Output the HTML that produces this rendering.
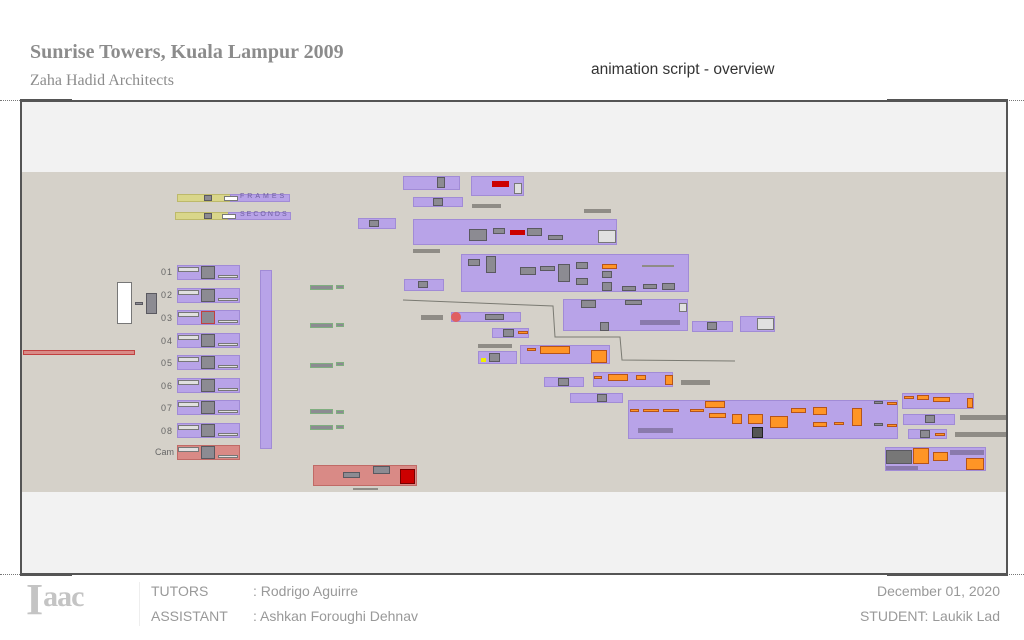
<!DOCTYPE html>
<html><head><meta charset="utf-8"><style>
*{margin:0;padding:0;box-sizing:border-box}
body{width:1024px;height:640px;background:#fff;position:relative;overflow:hidden;font-family:"Liberation Sans",sans-serif}
div{position:absolute}
.g{background:#b8a3e8;border:1px solid #a18bd6}
.r{background:#d98a86;border:1px solid #c06a66}
.n{background:#8c8b92;border:1px solid #5a5960}
.o{background:#ff9526;border:1px solid #b5541a}
.w{background:#e0e0e0;border:1px solid #777}
.b{background:#8f8c86}
.y{background:#d9d68a;border:1px solid #bdb96a}
.gn{background:#8c8b92;border:1px solid #7fae7f}
.lbl{font-size:9px;color:#666;letter-spacing:1px}
.t{font-family:"Liberation Sans",sans-serif;color:#999}
</style></head><body>
<div style="left:30px;top:41px;font-family:'Liberation Serif',serif;font-weight:bold;font-size:20px;color:#8c8c8c">Sunrise Towers, Kuala Lampur 2009</div>
<div style="left:30px;top:72px;font-family:'Liberation Serif',serif;font-size:16px;color:#8c8c8c">Zaha Hadid Architects</div>
<div style="left:591px;top:61px;font-size:15.5px;color:#333">animation script - overview</div>

<div style="left:0;top:100px;width:1024px;border-top:1px dotted #777"></div>
<div style="left:0;top:574px;width:1024px;border-top:1px dotted #777"></div>
<div style="left:20px;top:100px;width:988px;height:475px;background:#f2f2f2;border:2px solid #555"></div>
<div style="left:20px;top:99px;width:52px;height:3px;background:#555"></div>
<div style="left:887px;top:99px;width:121px;height:3px;background:#555"></div>
<div style="left:20px;top:573px;width:52px;height:3px;background:#555"></div>
<div style="left:887px;top:573px;width:121px;height:3px;background:#555"></div>

<div style="left:22px;top:172px;width:984px;height:320px;background:#d5d1c9"></div>

<div class="y" style="left:177px;top:194px;width:54px;height:8px"></div>
<div class="g" style="left:230px;top:194px;width:60px;height:8px"></div>
<div style="left:240px;top:193px;font-size:7px;color:#7060a0;letter-spacing:3px">FRAMES</div>
<div class="y" style="left:175px;top:212px;width:54px;height:8px"></div>
<div class="g" style="left:228px;top:212px;width:63px;height:8px"></div>
<div style="left:240px;top:211px;font-size:7px;color:#7060a0;letter-spacing:2px">SECONDS</div>
<div class="n" style="left:204px;top:195px;width:8px;height:6px"></div>
<div class="n" style="left:204px;top:213px;width:8px;height:6px"></div>
<div class="w" style="left:224px;top:196px;width:14px;height:5px;background:#fff"></div>
<div class="w" style="left:222px;top:214px;width:14px;height:5px;background:#fff"></div>
<div class="g" style="left:358px;top:218px;width:38px;height:11px"></div>
<div class="n" style="left:369px;top:220px;width:10px;height:7px"></div>

<div class="lbl" style="left:161px;top:267px">01</div>
<div class="lbl" style="left:161px;top:290px">02</div>
<div class="lbl" style="left:161px;top:313px">03</div>
<div class="lbl" style="left:161px;top:336px">04</div>
<div class="lbl" style="left:161px;top:358px">05</div>
<div class="lbl" style="left:161px;top:381px">06</div>
<div class="lbl" style="left:161px;top:403px">07</div>
<div class="lbl" style="left:161px;top:426px">08</div>
<div class="lbl" style="left:155px;top:447px;letter-spacing:0">Cam</div>
<div class="g" style="left:177px;top:265px;width:63px;height:15px"></div>
<div class="g" style="left:177px;top:288px;width:63px;height:15px"></div>
<div class="g" style="left:177px;top:310px;width:63px;height:15px"></div>
<div class="g" style="left:177px;top:333px;width:63px;height:15px"></div>
<div class="g" style="left:177px;top:355px;width:63px;height:15px"></div>
<div class="g" style="left:177px;top:378px;width:63px;height:15px"></div>
<div class="g" style="left:177px;top:400px;width:63px;height:15px"></div>
<div class="g" style="left:177px;top:423px;width:63px;height:15px"></div>
<div class="r" style="left:177px;top:445px;width:63px;height:15px"></div>
<div class="n" style="left:201px;top:266px;width:14px;height:13px"></div>
<div class="n" style="left:201px;top:289px;width:14px;height:13px"></div>
<div class="n" style="left:201px;top:311px;width:14px;height:13px;border-color:#c04040"></div>
<div class="n" style="left:201px;top:334px;width:14px;height:13px"></div>
<div class="n" style="left:201px;top:356px;width:14px;height:13px"></div>
<div class="n" style="left:201px;top:379px;width:14px;height:13px"></div>
<div class="n" style="left:201px;top:401px;width:14px;height:13px"></div>
<div class="n" style="left:201px;top:424px;width:14px;height:13px"></div>
<div class="n" style="left:201px;top:446px;width:14px;height:13px"></div>
<div class="w" style="left:178px;top:267px;width:21px;height:5px"></div>
<div class="w" style="left:178px;top:290px;width:21px;height:5px"></div>
<div class="w" style="left:178px;top:312px;width:21px;height:5px"></div>
<div class="w" style="left:178px;top:335px;width:21px;height:5px"></div>
<div class="w" style="left:178px;top:357px;width:21px;height:5px"></div>
<div class="w" style="left:178px;top:380px;width:21px;height:5px"></div>
<div class="w" style="left:178px;top:402px;width:21px;height:5px"></div>
<div class="w" style="left:178px;top:425px;width:21px;height:5px"></div>
<div class="w" style="left:178px;top:447px;width:21px;height:5px"></div>
<div class="w" style="left:218px;top:275px;width:20px;height:3px"></div>
<div class="w" style="left:218px;top:298px;width:20px;height:3px"></div>
<div class="w" style="left:218px;top:320px;width:20px;height:3px"></div>
<div class="w" style="left:218px;top:343px;width:20px;height:3px"></div>
<div class="w" style="left:218px;top:365px;width:20px;height:3px"></div>
<div class="w" style="left:218px;top:388px;width:20px;height:3px"></div>
<div class="w" style="left:218px;top:410px;width:20px;height:3px"></div>
<div class="w" style="left:218px;top:433px;width:20px;height:3px"></div>
<div class="w" style="left:218px;top:455px;width:20px;height:3px"></div>

<div style="left:117px;top:282px;width:15px;height:42px;background:#fff;border:1px solid #777"></div>
<div class="n" style="left:135px;top:302px;width:8px;height:3px"></div>
<div class="n" style="left:146px;top:293px;width:11px;height:21px"></div>
<div style="left:23px;top:350px;width:112px;height:5px;background:#d98a86;border:1px solid #c04040"></div>
<div class="g" style="left:260px;top:270px;width:12px;height:179px"></div>

<div class="gn" style="left:310px;top:285px;width:23px;height:5px"></div>
<div class="gn" style="left:310px;top:323px;width:23px;height:5px"></div>
<div class="gn" style="left:310px;top:363px;width:23px;height:5px"></div>
<div class="gn" style="left:310px;top:409px;width:23px;height:5px"></div>
<div class="gn" style="left:310px;top:425px;width:23px;height:5px"></div>
<div class="gn" style="left:336px;top:285px;width:8px;height:4px"></div>
<div class="gn" style="left:336px;top:323px;width:8px;height:4px"></div>
<div class="gn" style="left:336px;top:362px;width:8px;height:4px"></div>
<div class="gn" style="left:336px;top:410px;width:8px;height:4px"></div>
<div class="gn" style="left:336px;top:425px;width:8px;height:4px"></div>

<div class="r" style="left:313px;top:465px;width:104px;height:21px"></div>
<div style="left:400px;top:469px;width:15px;height:15px;background:#cc0000;border:1px solid #700"></div>
<div class="n" style="left:373px;top:466px;width:17px;height:8px"></div>
<div class="n" style="left:343px;top:472px;width:17px;height:6px"></div>
<div class="b" style="left:353px;top:488px;width:25px;height:2px"></div>

<div class="g" style="left:403px;top:176px;width:57px;height:14px"></div>
<div class="n" style="left:437px;top:177px;width:8px;height:11px"></div>
<div class="g" style="left:471px;top:176px;width:53px;height:20px"></div>
<div style="left:492px;top:181px;width:17px;height:6px;background:#cc0000"></div>
<div class="w" style="left:514px;top:183px;width:8px;height:11px"></div>
<div class="g" style="left:413px;top:197px;width:50px;height:10px"></div>
<div class="n" style="left:433px;top:198px;width:10px;height:8px"></div>
<div class="b" style="left:472px;top:204px;width:29px;height:4px"></div>
<div class="b" style="left:584px;top:209px;width:27px;height:4px"></div>
<div class="g" style="left:413px;top:219px;width:204px;height:26px"></div>
<div class="n" style="left:469px;top:229px;width:18px;height:12px"></div>
<div class="n" style="left:493px;top:228px;width:12px;height:6px"></div>
<div style="left:510px;top:230px;width:15px;height:5px;background:#cc0000"></div>
<div class="n" style="left:527px;top:228px;width:15px;height:8px"></div>
<div class="n" style="left:548px;top:235px;width:15px;height:5px"></div>
<div class="w" style="left:598px;top:230px;width:18px;height:13px"></div>
<div class="b" style="left:413px;top:249px;width:27px;height:4px"></div>
<div class="g" style="left:461px;top:254px;width:228px;height:38px"></div>
<div class="n" style="left:486px;top:256px;width:10px;height:17px"></div>
<div class="n" style="left:468px;top:259px;width:12px;height:7px"></div>
<div class="n" style="left:520px;top:267px;width:16px;height:8px"></div>
<div class="n" style="left:540px;top:266px;width:15px;height:5px"></div>
<div class="n" style="left:558px;top:264px;width:12px;height:18px"></div>
<div class="n" style="left:576px;top:262px;width:12px;height:7px"></div>
<div class="n" style="left:576px;top:278px;width:12px;height:7px"></div>
<div class="o" style="left:602px;top:264px;width:15px;height:5px"></div>
<div class="n" style="left:602px;top:271px;width:10px;height:7px"></div>
<div class="n" style="left:602px;top:282px;width:10px;height:9px"></div>
<div class="n" style="left:622px;top:286px;width:14px;height:5px"></div>
<div class="n" style="left:643px;top:284px;width:14px;height:5px"></div>
<div class="n" style="left:662px;top:283px;width:13px;height:7px"></div>
<div class="b" style="left:642px;top:265px;width:32px;height:2px"></div>
<div class="g" style="left:404px;top:279px;width:40px;height:12px"></div>
<div class="n" style="left:418px;top:281px;width:10px;height:7px"></div>
<div class="g" style="left:563px;top:299px;width:125px;height:32px"></div>
<div class="n" style="left:581px;top:300px;width:15px;height:8px"></div>
<div class="n" style="left:625px;top:300px;width:17px;height:5px"></div>
<div class="n" style="left:600px;top:322px;width:9px;height:9px"></div>
<div class="w" style="left:679px;top:303px;width:8px;height:9px"></div>
<div class="b" style="left:640px;top:320px;width:40px;height:5px;background:#8a7aac"></div>
<div class="g" style="left:692px;top:321px;width:41px;height:11px"></div>
<div class="n" style="left:707px;top:322px;width:10px;height:8px"></div>
<div class="g" style="left:740px;top:316px;width:35px;height:16px"></div>
<div class="w" style="left:757px;top:318px;width:17px;height:12px"></div>
<div class="g" style="left:451px;top:312px;width:70px;height:10px"></div>
<div style="left:451px;top:312px;width:10px;height:10px;border-radius:50%;background:#e06060"></div>
<div class="n" style="left:485px;top:314px;width:19px;height:6px"></div>
<div class="b" style="left:421px;top:315px;width:22px;height:5px"></div>
<div class="g" style="left:492px;top:328px;width:37px;height:10px"></div>
<div class="n" style="left:503px;top:329px;width:11px;height:8px"></div>
<div class="o" style="left:518px;top:331px;width:10px;height:3px"></div>
<div class="b" style="left:478px;top:344px;width:34px;height:4px"></div>
<div class="g" style="left:478px;top:351px;width:39px;height:13px"></div>
<div style="left:481px;top:358px;width:5px;height:4px;background:#ee0"></div>
<div class="n" style="left:489px;top:353px;width:11px;height:9px"></div>
<div class="g" style="left:520px;top:345px;width:90px;height:19px"></div>
<div class="o" style="left:540px;top:346px;width:30px;height:8px"></div>
<div class="o" style="left:591px;top:350px;width:16px;height:13px"></div>
<div class="o" style="left:527px;top:348px;width:9px;height:3px"></div>
<div class="g" style="left:544px;top:377px;width:40px;height:10px"></div>
<div class="n" style="left:558px;top:378px;width:11px;height:8px"></div>
<div class="g" style="left:593px;top:372px;width:80px;height:15px"></div>
<div class="o" style="left:608px;top:374px;width:20px;height:7px"></div>
<div class="o" style="left:636px;top:375px;width:10px;height:5px"></div>
<div class="o" style="left:665px;top:375px;width:8px;height:10px"></div>
<div class="o" style="left:594px;top:376px;width:8px;height:3px"></div>
<div class="b" style="left:681px;top:380px;width:29px;height:5px"></div>
<div class="g" style="left:570px;top:393px;width:53px;height:10px"></div>
<div class="n" style="left:597px;top:394px;width:10px;height:8px"></div>

<div class="g" style="left:628px;top:400px;width:270px;height:39px"></div>
<div class="o" style="left:630px;top:409px;width:9px;height:3px"></div>
<div class="o" style="left:643px;top:409px;width:16px;height:3px"></div>
<div class="o" style="left:663px;top:409px;width:16px;height:3px"></div>
<div class="o" style="left:690px;top:409px;width:14px;height:3px"></div>
<div class="o" style="left:705px;top:401px;width:20px;height:7px"></div>
<div class="o" style="left:709px;top:413px;width:17px;height:5px"></div>
<div class="o" style="left:732px;top:414px;width:10px;height:10px"></div>
<div class="o" style="left:748px;top:414px;width:15px;height:10px"></div>
<div class="o" style="left:770px;top:416px;width:18px;height:12px"></div>
<div class="o" style="left:791px;top:408px;width:15px;height:5px"></div>
<div class="o" style="left:813px;top:407px;width:14px;height:8px"></div>
<div class="o" style="left:813px;top:422px;width:14px;height:5px"></div>
<div class="o" style="left:834px;top:422px;width:10px;height:3px"></div>
<div class="o" style="left:852px;top:408px;width:10px;height:18px"></div>
<div class="n" style="left:874px;top:401px;width:9px;height:3px"></div>
<div class="o" style="left:887px;top:402px;width:10px;height:3px"></div>
<div class="n" style="left:874px;top:423px;width:9px;height:3px"></div>
<div class="o" style="left:887px;top:424px;width:10px;height:3px"></div>
<div class="b" style="left:638px;top:428px;width:35px;height:5px;background:#8a7aac"></div>
<div style="left:752px;top:427px;width:11px;height:11px;background:#555;border:1px solid #222"></div>

<div class="g" style="left:902px;top:393px;width:72px;height:16px"></div>
<div class="o" style="left:904px;top:396px;width:10px;height:3px"></div>
<div class="o" style="left:917px;top:395px;width:12px;height:5px"></div>
<div class="o" style="left:933px;top:397px;width:17px;height:5px"></div>
<div class="o" style="left:967px;top:398px;width:6px;height:10px"></div>
<div class="g" style="left:903px;top:414px;width:52px;height:11px"></div>
<div class="n" style="left:925px;top:415px;width:10px;height:8px"></div>
<div class="b" style="left:960px;top:415px;width:46px;height:5px"></div>
<div class="g" style="left:908px;top:429px;width:39px;height:10px"></div>
<div class="n" style="left:920px;top:430px;width:10px;height:8px"></div>
<div class="o" style="left:935px;top:433px;width:10px;height:3px"></div>
<div class="b" style="left:955px;top:432px;width:51px;height:5px"></div>
<div class="g" style="left:885px;top:447px;width:101px;height:24px"></div>
<div class="n" style="left:886px;top:450px;width:26px;height:14px;background:#777"></div>
<div class="o" style="left:913px;top:448px;width:16px;height:16px"></div>
<div class="o" style="left:933px;top:452px;width:15px;height:9px"></div>
<div class="o" style="left:966px;top:458px;width:18px;height:12px"></div>
<div class="b" style="left:950px;top:450px;width:34px;height:5px;background:#8a7aac"></div>
<div class="b" style="left:886px;top:466px;width:32px;height:4px;background:#8a7aac"></div>

<svg style="position:absolute;left:0;top:0" width="1024" height="640">
<polyline points="403,300 553,306 555,337 620,337 622,360 735,361" fill="none" stroke="#7a7a72" stroke-width="1"/>
</svg>

<div style="left:26px;top:578px;font-family:'Liberation Serif',serif;font-weight:bold;font-size:44px;color:#c4c4c4;line-height:44px;white-space:nowrap">I<span style="font-size:30px;position:relative;top:-8px;letter-spacing:-1px">aac</span></div>
<div style="left:139px;top:582px;height:44px;border-left:1px solid #eee"></div>
<div class="t" style="left:151px;top:583px;font-size:14px">TUTORS</div>
<div class="t" style="left:253px;top:583px;font-size:14px">: Rodrigo Aguirre</div>
<div class="t" style="left:151px;top:608px;font-size:14px">ASSISTANT</div>
<div class="t" style="left:253px;top:608px;font-size:14px">: Ashkan Foroughi Dehnav</div>
<div class="t" style="right:24px;top:583px;font-size:14px">December 01, 2020</div>
<div class="t" style="right:24px;top:608px;font-size:14px">STUDENT: Laukik Lad</div>
</body></html>
